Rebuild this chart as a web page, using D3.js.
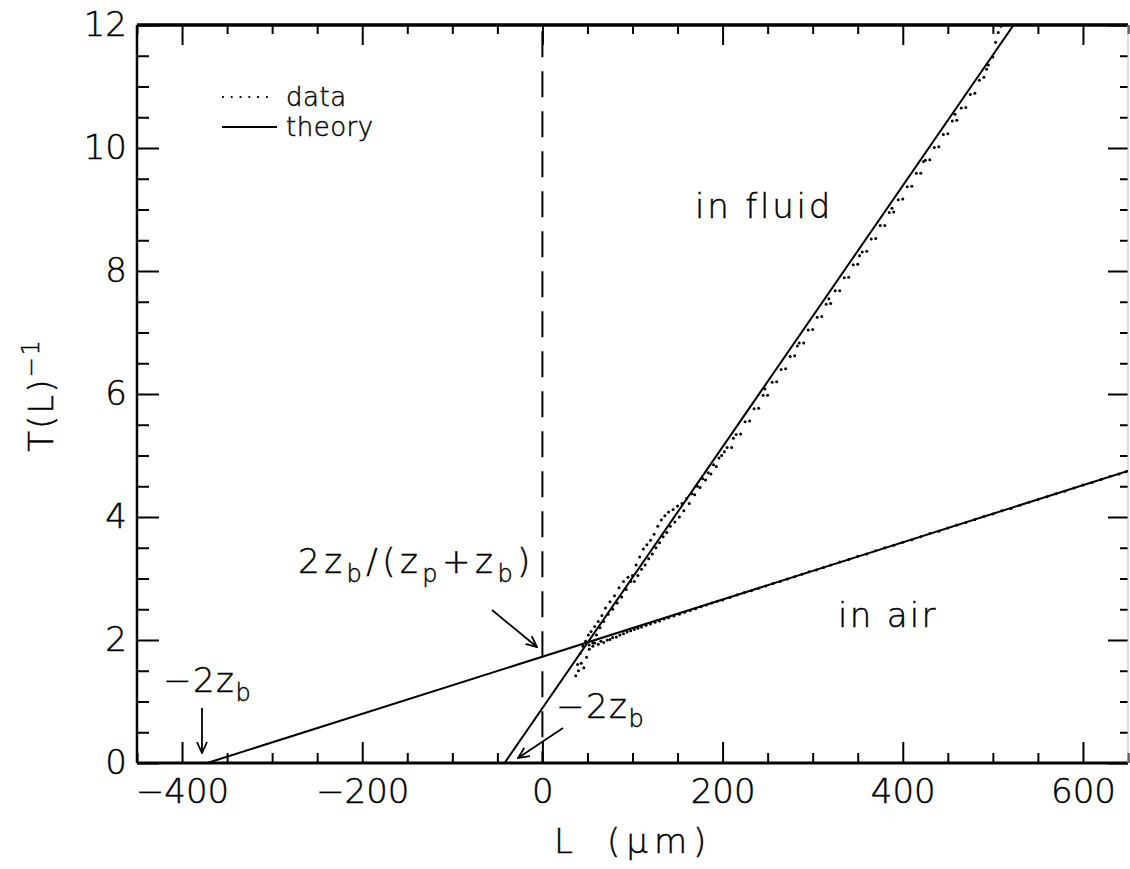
<!DOCTYPE html>
<html>
<head>
<meta charset="utf-8">
<script src="https://cdn.jsdelivr.net/npm/d3@7"></script>
<style>
  body { margin: 0; background: #fff; }
  svg text { font-family: "DejaVu Sans", sans-serif; font-weight: 200; fill: #000; stroke: #000; stroke-width: 0.45px; }
</style>
</head>
<body>
<div id="chart"></div>
<script>
const width = 1130;
const height = 869;
const margin = { top: 25, right: 2, bottom: 106, left: 137 };

// axis ticks
const xMajorTicks = [-400, -200, 0, 200, 400, 600];
const xMinorTicks = [-450, -350, -300, -250, -150, -100, -50, 50, 100, 150, 250, 300, 350, 450, 500, 550, 650];
const yMajorTicks = [0, 2, 4, 6, 8, 10, 12];
const yMinorTicks = [0.5, 1, 1.5, 2.5, 3, 3.5, 4.5, 5, 5.5, 6.5, 7, 7.5, 8.5, 9, 9.5, 10.5, 11, 11.5];

// theory lines (L in um, T^-1)
const airTheory = [[-372, 0], [650, 4.75]];
const fluidTheory = [[-42, 0], [523, 12]];

const fluidData = [
  [37, 1.42], [39, 1.6], [40, 1.5], [42, 1.78], [43, 1.62], [45, 1.9], [46, 1.55], [48, 1.98],
  [49, 1.72], [51, 2.08], [52, 1.85], [54, 2.14], [56, 1.95], [58, 2.22], [60, 2.08], [62, 2.3],
  [64, 2.2], [66, 2.4], [68, 2.3], [70, 2.52], [73, 2.42], [75, 2.62], [78, 2.5], [80, 2.72],
  [83, 2.6], [85, 2.85], [88, 2.7], [90, 2.95], [93, 2.82], [95, 3.02], [98, 2.95],
  [100, 3.05], [102, 2.95], [104, 3.22], [106, 3.05], [108, 3.35], [110, 3.15], [112, 3.48],
  [114, 3.22], [116, 3.55], [118, 3.32], [120, 3.62], [122, 3.4], [124, 3.72], [126, 3.5],
  [128, 3.85], [130, 3.58], [132, 3.95], [134, 3.68], [136, 4.02], [138, 3.75], [140, 4.08],
  [142, 3.85], [145, 4.12], [147, 3.92], [150, 4.18], [152, 4.0], [155, 4.22], [157, 4.1],
  [160, 4.3], [163, 4.22], [166, 4.38], [169, 4.36], [172, 4.5], [175, 4.48], [178, 4.62],
  [181, 4.6], [184, 4.72], [187, 4.7], [190, 4.85], [193, 4.82], [196, 4.96], [199, 5.0],
  [202, 5.06], [205, 5.13], [210, 5.13], [212, 5.28], [215, 5.34], [220, 5.35], [225, 5.55],
  [230, 5.56], [235, 5.76], [240, 5.77], [245, 5.98], [247, 6.08], [250, 5.98], [255, 6.19],
  [260, 6.2], [265, 6.4], [270, 6.41], [275, 6.61], [280, 6.62], [283, 6.78], [285, 6.83],
  [290, 6.83], [295, 7.04], [300, 7.05], [305, 7.25], [310, 7.26], [315, 7.46], [318, 7.55],
  [320, 7.47], [325, 7.68], [330, 7.68], [335, 7.89], [340, 7.9], [345, 8.1], [350, 8.11],
  [352, 8.25], [355, 8.31], [360, 8.32], [365, 8.52], [370, 8.53], [375, 8.74], [380, 8.74],
  [385, 8.95], [388, 9.02], [390, 8.96], [395, 9.16], [400, 9.17], [405, 9.37], [410, 9.38],
  [415, 9.59], [420, 9.59], [423, 9.78], [425, 9.8], [430, 9.81], [435, 10.01], [440, 10.02],
  [445, 10.22], [450, 10.23], [455, 10.44], [458, 10.55], [460, 10.45], [465, 10.65], [470, 10.66],
  [475, 10.87], [480, 10.89], [485, 11.1], [490, 11.15], [493, 11.28], [495, 11.35], [500, 11.48],
  [503, 11.72], [506, 11.88], [509, 11.98]
];
const airData = [
  [52, 1.92], [56, 1.9], [58, 1.95], [62, 1.93], [65, 1.98], [68, 1.96], [72, 2.0], [75, 2.01],
  [78, 2.04], [82, 2.05], [86, 2.08], [90, 2.1], [94, 2.13], [98, 2.15], [102, 2.17], [106, 2.19],
  [110, 2.21], [115, 2.24], [120, 2.26], [125, 2.29], [130, 2.31], [135, 2.34], [140, 2.36],
  [146, 2.39], [152, 2.42], [158, 2.45], [164, 2.48], [170, 2.51], [176, 2.54], [182, 2.57],
  [188, 2.6], [194, 2.63], [200, 2.65], [208, 2.69], [216, 2.73], [224, 2.77], [232, 2.8],
  [240, 2.84], [248, 2.88], [256, 2.92], [264, 2.95], [272, 2.99], [280, 3.03], [288, 3.07],
  [296, 3.11], [304, 3.14], [312, 3.18], [320, 3.22], [330, 3.27], [340, 3.31], [350, 3.36],
  [360, 3.4], [370, 3.45], [380, 3.5], [390, 3.54], [400, 3.59], [410, 3.63], [420, 3.68],
  [430, 3.73], [440, 3.77], [450, 3.82], [460, 3.87], [470, 3.91], [480, 3.96], [490, 4.01],
  [500, 4.05], [510, 4.1], [520, 4.14], [530, 4.19], [540, 4.24], [550, 4.28], [560, 4.33],
  [570, 4.38], [580, 4.42], [590, 4.47], [600, 4.52], [610, 4.56], [620, 4.61], [630, 4.66],
  [640, 4.7], [648, 4.74]
];

const legendLabels = ["data", "theory"];

const innerW = width - margin.left - margin.right;
const innerH = height - margin.top - margin.bottom;

const svg = d3
  .select("#chart")
  .append("svg")
  .attr("width", width)
  .attr("height", height)
  .append("g")
  .attr("transform", `translate(${margin.left},${margin.top})`);

const x = d3.scaleLinear().domain([-450, 650]).range([0, innerW]);
const y = d3.scaleLinear().domain([0, 12]).range([innerH, 0]);

svg.append("clipPath").attr("id", "plotClip")
  .append("rect").attr("width", innerW).attr("height", innerH);

// axes: ticks point inward
function styleAxis(g, w) {
  g.select(".domain").remove();
  g.selectAll(".tick line").attr("stroke", "#000").attr("stroke-width", w);
  g.selectAll(".tick text").style("font-size", "34px");
}

svg.append("g")
  .attr("transform", `translate(0,${innerH})`)
  .call(d3.axisBottom(x).tickValues(xMinorTicks).tickSize(-10).tickFormat(""))
  .call(g => styleAxis(g, 2));
svg.append("g")
  .attr("transform", `translate(0,${innerH})`)
  .call(d3.axisBottom(x).tickValues(xMajorTicks).tickSize(-21).tickPadding(16).tickFormat(d3.format("d")))
  .call(g => styleAxis(g, 2));
svg.append("g")
  .call(d3.axisTop(x).tickValues(xMinorTicks).tickSize(-9).tickFormat(""))
  .call(g => styleAxis(g, 2));
svg.append("g")
  .call(d3.axisTop(x).tickValues(xMajorTicks).tickSize(-20).tickFormat(""))
  .call(g => styleAxis(g, 2));

svg.append("g")
  .call(d3.axisLeft(y).tickValues(yMinorTicks).tickSize(-12).tickFormat(""))
  .call(g => styleAxis(g, 2));
svg.append("g")
  .call(d3.axisLeft(y).tickValues(yMajorTicks).tickSize(-22).tickPadding(10).tickFormat(d3.format("d")))
  .call(g => styleAxis(g, 2));
svg.append("g")
  .attr("transform", `translate(${innerW},0)`)
  .call(d3.axisRight(y).tickValues(yMinorTicks).tickSize(-8).tickFormat(""))
  .call(g => styleAxis(g, 2));
svg.append("g")
  .attr("transform", `translate(${innerW},0)`)
  .call(d3.axisRight(y).tickValues(yMajorTicks).tickSize(-20).tickFormat(""))
  .call(g => styleAxis(g, 2));

// frame
svg.append("line").attr("x1", 0).attr("x2", innerW).attr("y1", innerH).attr("y2", innerH)
  .attr("stroke", "#000").attr("stroke-width", 3);
svg.append("line").attr("x1", 0).attr("x2", innerW).attr("y1", 0).attr("y2", 0)
  .attr("stroke", "#000").attr("stroke-width", 3.5);
svg.append("line").attr("x1", 0).attr("x2", 0).attr("y1", 0).attr("y2", innerH)
  .attr("stroke", "#000").attr("stroke-width", 2.5);
svg.append("line").attr("x1", innerW).attr("x2", innerW).attr("y1", 0).attr("y2", innerH)
  .attr("stroke", "#bbb").attr("stroke-width", 1);

// dashed line at L = 0
svg.append("line")
  .attr("x1", x(0)).attr("x2", x(0)).attr("y1", y(11.9)).attr("y2", y(0))
  .attr("stroke", "#000").attr("stroke-width", 2)
  .attr("stroke-dasharray", "26,14");

// theory lines
const line = d3.line().x(d => x(d[0])).y(d => y(d[1]));
const plot = svg.append("g").attr("clip-path", "url(#plotClip)");
[airTheory, fluidTheory].forEach(t => {
  plot.append("path").datum(t)
    .attr("fill", "none").attr("stroke", "#000").attr("stroke-width", 2)
    .attr("d", line);
});

// data: dotted trace
[fluidData, airData].forEach(dset => {
  plot.selectAll(null)
    .data(dset)
    .enter()
    .append("circle")
    .attr("cx", d => x(d[0]))
    .attr("cy", d => y(d[1]))
    .attr("r", 1.5)
    .attr("fill", "#000");
});

// legend
const legend = svg.append("g").attr("transform", `translate(${222 - margin.left},${97 - margin.top})`);
legendLabels.forEach((label, i) => {
  legend.append("line")
    .attr("x1", 0).attr("x2", i === 0 ? 51 : 55)
    .attr("y1", i * 30).attr("y2", i * 30)
    .attr("stroke", "#000").attr("stroke-width", i === 0 ? 1.8 : 2)
    .attr("stroke-dasharray", i === 0 ? "1.8,7" : null);
  legend.append("text")
    .attr("x", 64).attr("y", i * 30)
    .attr("dy", "0.36em")
    .style("font-size", "26px")
    .style("letter-spacing", "0.5px")
    .text(label);
});

// axis titles
svg.append("text")
  .attr("x", 554 - margin.left).attr("y", 853 - margin.top)
  .style("font-size", "34px")
  .text("L");
svg.append("text")
  .attr("x", 607 - margin.left).attr("y", 853 - margin.top)
  .style("font-size", "34px")
  .style("letter-spacing", "6px")
  .text("(μm)");

svg.append("text")
  .attr("transform", `translate(${53 - margin.left},${395 - margin.top}) rotate(-90)`)
  .attr("text-anchor", "middle")
  .style("font-size", "34px")
  .style("letter-spacing", "2px")
  .call(t => {
    t.append("tspan").text("T(L)");
    t.append("tspan").attr("dy", -14).style("font-size", "24px").text("−1");
  });

// region labels
svg.append("text")
  .attr("x", 695 - margin.left).attr("y", 218 - margin.top)
  .style("font-size", "34px").style("letter-spacing", "2.8px")
  .text("in  fluid");
svg.append("text")
  .attr("x", 838 - margin.left).attr("y", 627 - margin.top)
  .style("font-size", "34px").style("letter-spacing", "2.3px")
  .text("in  air");

// annotations with subscripts
// parts: [text, isSub, returnFromSub]
function subText(g, px, py, parts, spacing) {
  const t = g.append("text")
    .attr("x", px - margin.left).attr("y", py - margin.top)
    .style("font-size", "34px").style("letter-spacing", spacing + "px");
  parts.forEach(p => {
    t.append("tspan")
      .attr("dy", p[1] ? 9 : (p[2] ? -9 : 0))
      .style("font-size", p[1] ? "24px" : "34px")
      .text(p[0]);
  });
  return t;
}
subText(svg, 298, 573, [["2z", false], ["b", true], ["/(z", false, true], ["p", true], ["+z", false, true], ["b", true], [")", false, true]], 4.5);
subText(svg, 163, 692, [["−2z", false], ["b", true]], 1.5);
subText(svg, 556, 718, [["−2z", false], ["b", true]], 1.5);

// arrows
const defs = svg.append("defs");
defs.append("marker")
  .attr("id", "head")
  .attr("viewBox", "0 0 12 12")
  .attr("refX", 11).attr("refY", 6)
  .attr("markerWidth", 12).attr("markerHeight", 12)
  .attr("markerUnits", "userSpaceOnUse")
  .attr("orient", "auto")
  .append("path")
  .attr("d", "M0,1 L11,6 L0,11")
  .attr("fill", "none").attr("stroke", "#000").attr("stroke-width", 1.8);

const arrows = [
  [492, 610, 537, 647],
  [202, 708, 202, 753],
  [563, 728, 518, 758]
];
arrows.forEach(a => {
  svg.append("line")
    .attr("x1", a[0] - margin.left).attr("y1", a[1] - margin.top)
    .attr("x2", a[2] - margin.left).attr("y2", a[3] - margin.top)
    .attr("stroke", "#000").attr("stroke-width", 1.8)
    .attr("marker-end", "url(#head)");
});
</script>
</body>
</html>
